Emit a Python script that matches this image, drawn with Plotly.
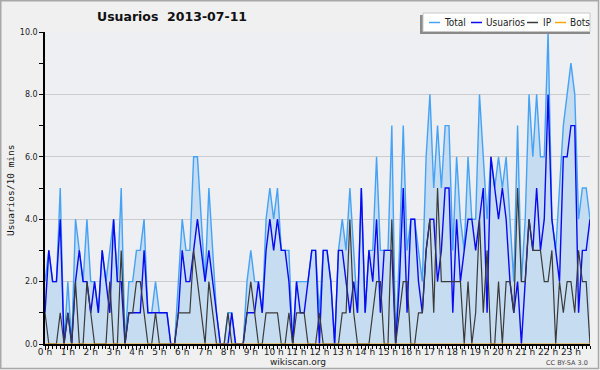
import plotly.graph_objects as go

# ---- data (10-minute buckets, 144 per day) ----
hours = [f"{h} h" for h in range(24)]
total = [2,3,2,2,5,0,2,0,4,3,2,4,
         2,2,1,3,2,3,4,2,5,0,2,2,
         3,3,4,1,1,2,1,1,1,0,0,2,
         4,3,3,6,6,4,2,5,3,1,0,0,
         1,1,0,0,0,2,3,2,2,1,4,5,
         4,5,3,3,3,0,2,2,2,2,3,3,
         1,3,3,2,0,3,4,3,5,3,1,5,
         1,3,3,6,3,3,3,7,0,3,7,3,
         4,4,3,2,6,8,5,7,5,7,7,3,
         6,4,3,6,4,4,8,6,4,6,5,6,
         5,6,4,2,7,2,4,8,6,8,6,6,
         10,4,3,5,7,8,9,8,4,5,5,4]
usuarios = [1,3,2,2,4,0,1,0,2,3,2,2,
            1,2,1,3,2,1,4,2,2,0,1,1,
            1,1,3,1,1,1,1,1,1,0,0,1,
            3,2,2,3,4,3,2,3,2,1,0,0,
            0,1,0,0,0,1,1,1,2,1,3,4,
            3,4,3,3,2,0,2,1,1,2,3,3,
            0,3,3,2,0,3,3,2,1,2,1,5,
            1,3,2,4,1,3,3,3,0,2,5,1,
            4,4,2,1,3,4,4,2,3,5,5,1,
            4,2,3,4,4,3,4,5,1,6,5,4,
            5,4,2,1,2,0,2,4,3,5,3,4,
            8,4,3,2,6,6,7,7,1,3,3,4]
ip = [1,0,0,0,1,0,1,0,2,0,0,2,
      1,0,0,0,0,2,0,0,3,0,1,1,
      2,2,1,0,0,1,0,0,0,0,0,1,
      1,1,1,3,2,1,0,2,1,0,0,0,
      1,0,0,0,0,1,2,1,0,0,1,1,
      1,1,0,0,1,0,1,1,1,0,0,0,
      1,0,0,0,0,0,1,1,4,1,0,0,
      0,0,1,2,2,0,0,4,0,1,2,2,
      0,0,1,1,3,4,1,5,2,2,2,2,
      2,2,0,2,0,1,4,1,3,0,0,2,
      0,2,2,1,5,2,2,4,3,3,3,2,
      2,3,0,2,1,2,2,1,3,2,2,0]
bots = [0] * 144
slots = list(range(144))
y_ticks = [0, 2, 4, 6, 8, 10]

series_names = ["Total", "Usuarios", "IP", "Bots"]
series_colors = ["#45a2f5", "#0a0af0", "#3a3a3a", "#ffa500"]

W, H = 600, 370
L, R, T, B = 45, 590, 32, 344
def px(x): return (x - L) / (R - L)
def py(y): return (B - y) / (B - T)

FONT = "DejaVu Sans"
LEGFONT = "DejaVu Sans Condensed, DejaVu Sans"

fig = go.Figure()
fig.add_trace(go.Scatter(x=slots, y=total, mode="lines", name="Total",
                         line=dict(color=series_colors[0], width=1.4),
                         fill="tozeroy", fillcolor="#c6dcf0"))
fig.add_trace(go.Scatter(x=slots, y=usuarios, mode="lines", name="Usuarios",
                         line=dict(color=series_colors[1], width=1.4)))
fig.add_trace(go.Scatter(x=slots, y=ip, mode="lines", name="IP",
                         line=dict(color=series_colors[2], width=1.2)))
fig.add_trace(go.Scatter(x=slots, y=bots, mode="lines", name="Bots",
                         line=dict(color=series_colors[3], width=1.2)))

shapes = []
annotations = []
# outer border
shapes.append(dict(type="rect", xref="paper", yref="paper",
                   x0=px(0.75), x1=px(W - 1.5), y0=py(H - 1.5), y1=py(0.75),
                   line=dict(color="#a8a8a8", width=1.5), fillcolor="rgba(0,0,0,0)", layer="below"))
# legend box (shadow + box)
shapes.append(dict(type="rect", xref="paper", yref="paper",
                   x0=px(420), x1=px(590), y0=py(34), y1=py(15),
                   line=dict(width=0), fillcolor="#8a8a8a", layer="above"))
shapes.append(dict(type="rect", xref="paper", yref="paper",
                   x0=px(423), x1=px(590), y0=py(31.5), y1=py(13),
                   line=dict(color="#c8c8c8", width=1), fillcolor="white", layer="above"))
leg_items = [(429, 442), (471, 484), (527, 541), (555, 568)]
for (lx, tx), name, col in zip(leg_items, series_names, series_colors):
    shapes.append(dict(type="line", xref="paper", yref="paper",
                       x0=px(lx), x1=px(lx + 11), y0=py(22.5), y1=py(22.5),
                       line=dict(color=col, width=1.5), layer="above"))
    annotations.append(dict(text=name, xref="paper", yref="paper", x=px(tx), y=py(22.5),
                            xanchor="left", yanchor="middle", showarrow=False,
                            font=dict(family=LEGFONT, size=10, color="#222")))

# title
annotations.append(dict(text="<b>Usuarios  2013-07-11</b>", xref="paper", yref="paper",
                        x=px(172), y=py(17), xanchor="center", yanchor="middle", showarrow=False,
                        font=dict(family=FONT, size=12.5, color="#111")))
# y axis title
annotations.append(dict(text="Usuarios/10 mins", xref="paper", yref="paper",
                        x=px(10), y=py(190), xanchor="center", yanchor="middle", showarrow=False,
                        textangle=-90, font=dict(family="DejaVu Sans Mono", size=9.5, color="#111")))
# x axis footer
annotations.append(dict(text="wikiscan.org", xref="paper", yref="paper",
                        x=px(298), y=py(361.5), xanchor="center", yanchor="middle", showarrow=False,
                        font=dict(family=FONT, size=9, color="#222")))
annotations.append(dict(text="CC BY-SA 3.0", xref="paper", yref="paper",
                        x=px(590), y=py(362.5), xanchor="right", yanchor="middle", showarrow=False,
                        font=dict(family=FONT, size=6.5, color="#444")))

fig.update_layout(
    width=W, height=H, autosize=False,
    margin=dict(l=L, r=W - R, t=T, b=H - B, pad=0),
    paper_bgcolor="#f0f0f0", plot_bgcolor="#edeff2",
    showlegend=False,
    shapes=shapes, annotations=annotations,
    xaxis=dict(range=[0, 143], tickvals=slots[::6], ticktext=hours,
               ticks="outside", ticklen=4, tickcolor="black", tickwidth=1,
               ticklabelstandoff=-6,
               showline=True, linecolor="black", linewidth=1.5,
               showgrid=False, zeroline=False,
               tickfont=dict(family=FONT, size=9, color="#222"),
               minor=dict(dtick=1, tick0=0, ticks="outside", ticklen=3,
                          tickcolor="black", showgrid=False)),
    yaxis=dict(range=[0, 10], tickvals=y_ticks, ticktext=[f"{v:.1f}" for v in y_ticks],
               ticks="outside", ticklen=4, tickcolor="black", tickwidth=1,
               showline=True, linecolor="black", linewidth=1.5,
               showgrid=True, gridcolor="#cccccc", gridwidth=1, zeroline=False,
               tickfont=dict(family=FONT, size=8, color="#222"),
               minor=dict(dtick=1, tick0=0, ticks="outside", ticklen=4,
                          tickcolor="black", showgrid=False)),
)

post = """
var d=document.documentElement, b=document.body;
[d,b].forEach(function(e){e.style.margin='0';e.style.padding='0';
  e.style.overflow='hidden';e.style.height='370px';});
var g=document.getElementById('{plot_id}');
if(g&&g.parentNode){g.parentNode.style.height='370px';g.parentNode.style.overflow='hidden';
  g.parentNode.style.lineHeight='0';}
"""
fig.write_html("out.html",
               config={"displayModeBar": False, "responsive": False},
               post_script=post)
